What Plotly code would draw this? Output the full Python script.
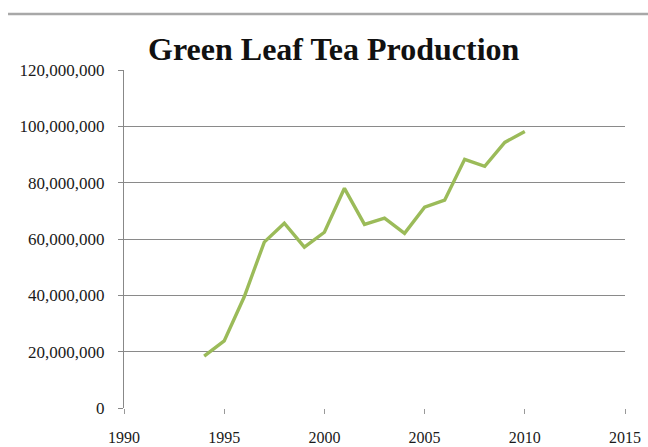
import plotly.graph_objects as go

years = [1994, 1995, 1996, 1997, 1998, 1999, 2000, 2001, 2002, 2003, 2004, 2005, 2006, 2007, 2008, 2009, 2010]
production = [18400000, 23800000, 39500000, 58900000, 65600000, 57100000, 62400000, 78000000, 65200000, 67400000,
              62000000, 71300000, 73800000, 88300000, 85800000, 94300000, 98200000]
y_ticks = [0, 20000000, 40000000, 60000000, 80000000, 100000000, 120000000]
y_tick_labels = ["0", "20,000,000", "40,000,000", "60,000,000", "80,000,000", "100,000,000", "120,000,000"]
x_ticks = [1990, 1995, 2000, 2005, 2010, 2015]

fig = go.Figure()
fig.add_trace(go.Scatter(x=years, y=production, mode="lines",
                         line=dict(color="#9BBB59", width=3.4), showlegend=False))

fig.update_layout(
    width=648, height=447,
    margin=dict(l=124, r=23, t=70, b=39),
    paper_bgcolor="white", plot_bgcolor="white",
    font=dict(family="Liberation Serif", color="#1a1a1a"),
    title=dict(text="<b>Green Leaf Tea Production</b>", x=0.515, xanchor="center",
               y=0.89, yanchor="middle", font=dict(family="Liberation Serif", size=32, color="#111")),
    shapes=[dict(type="line", xref="paper", yref="paper", x0=-0.2315, x1=1.05, y0=1.1657, y1=1.1657,
                 line=dict(color="#a8a8a8", width=2.5))],
)
fig.update_xaxes(range=[1990, 2015], tickvals=x_ticks, ticks="outside", ticklen=5, tickcolor="#999",
                 showgrid=False, showline=False, zeroline=False, tickfont=dict(size=16),
                 ticklabelstandoff=10, automargin=False)
fig.update_yaxes(range=[0, 120000000], tickvals=y_ticks, ticktext=y_tick_labels, ticks="outside",
                 ticklen=5, tickcolor="#888", showgrid=True, gridcolor="#8a8a8a", gridwidth=1,
                 showline=True, linecolor="#888", linewidth=1,
                 zeroline=True, zerolinecolor="white", zerolinewidth=2,
                 tickfont=dict(size=17), ticklabelstandoff=10, automargin=False)

fig.write_html("out.html")
